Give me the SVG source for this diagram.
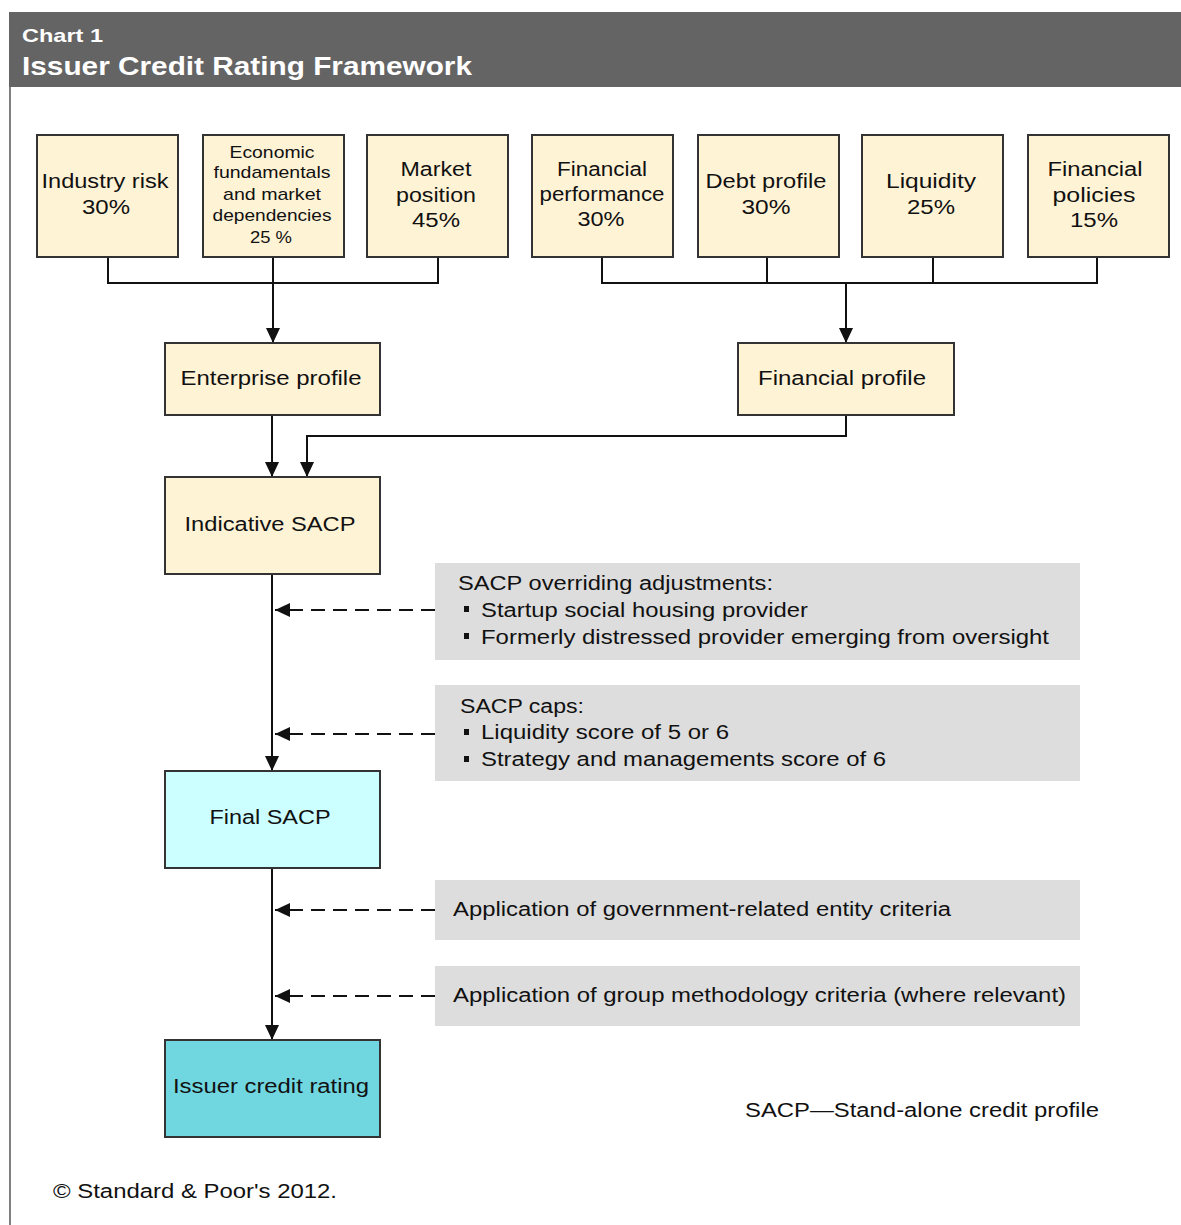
<svg xmlns="http://www.w3.org/2000/svg" width="1181" height="1225" viewBox="0 0 1181 1225">
  <style>
    .box { fill: #fff3d6; stroke: #333333; stroke-width: 2; }
    .final { fill: #ccffff; stroke: #333333; stroke-width: 2; }
    .rating { fill: #70d6e0; stroke: #333333; stroke-width: 2; }
    .note { fill: #dddddd; }
    .t { font-family: "Liberation Sans", Arial, sans-serif; font-size: 20px; fill: #111111; }
    .ts { font-family: "Liberation Sans", Arial, sans-serif; font-size: 17px; fill: #111111; }
    .hd { font-family: "Liberation Sans", Arial, sans-serif; font-weight: bold; fill: #ffffff; }
    .ln { fill: none; stroke: #111111; stroke-width: 2; }
    .dash { fill: none; stroke: #111111; stroke-width: 2; stroke-dasharray: 14 8; }
  </style>
  <defs>
    <marker id="arr" markerUnits="userSpaceOnUse" markerWidth="15" markerHeight="16" refX="15" refY="7" orient="auto">
      <path d="M0,0 L15,7 L0,14 Z" fill="#111111"/>
    </marker>
  </defs>

  <rect x="0" y="0" width="1181" height="1225" fill="#ffffff"/>

  <!-- header bar and frame -->
  <g id="header">
    <rect x="9" y="12" width="1172" height="75" fill="#646464"/>
    <line x1="10" y1="87" x2="10" y2="1225" stroke="#808080" stroke-width="2"/>
    <text class="hd" x="22" y="42" font-size="19" textLength="81" lengthAdjust="spacingAndGlyphs">Chart 1</text>
    <text class="hd" x="22" y="75" font-size="25" textLength="450" lengthAdjust="spacingAndGlyphs">Issuer Credit Rating Framework</text>
  </g>

  <!-- connectors -->
  <g id="connectors">
    <path class="ln" d="M108,257 V283 H438 V257 M273,257 V343" marker-end="url(#arr)"/>
    <path class="ln" d="M602,257 V283 H1097 V257 M767,257 V283 M933,257 V283 M846,283 V343" marker-end="url(#arr)"/>
    <path class="ln" d="M272,415 V477" marker-end="url(#arr)"/>
    <path class="ln" d="M846,415 V436 H307 V477" marker-end="url(#arr)"/>
    <path class="ln" d="M272,574 V771" marker-end="url(#arr)"/>
    <path class="ln" d="M272,868 V1040" marker-end="url(#arr)"/>
    <path class="dash" d="M435,610 H275" marker-end="url(#arr)"/>
    <path class="dash" d="M435,734 H275" marker-end="url(#arr)"/>
    <path class="dash" d="M435,910 H275" marker-end="url(#arr)"/>
    <path class="dash" d="M435,996 H275" marker-end="url(#arr)"/>
  </g>

  <!-- input factors -->
  <g id="industry-risk">
    <rect class="box" x="37" y="135" width="141" height="122"/>
    <text class="t" x="105" y="188" text-anchor="middle" textLength="127" lengthAdjust="spacingAndGlyphs">Industry risk</text>
    <text class="t" x="106" y="214" text-anchor="middle" textLength="48" lengthAdjust="spacingAndGlyphs">30%</text>
  </g>
  <g id="economic-fundamentals">
    <rect class="box" x="203" y="135" width="141" height="122"/>
    <text class="ts" x="272" y="158" text-anchor="middle" textLength="85" lengthAdjust="spacingAndGlyphs">Economic</text>
    <text class="ts" x="272" y="178" text-anchor="middle" textLength="117" lengthAdjust="spacingAndGlyphs">fundamentals</text>
    <text class="ts" x="272" y="200" text-anchor="middle" textLength="98" lengthAdjust="spacingAndGlyphs">and market</text>
    <text class="ts" x="272" y="221" text-anchor="middle" textLength="119" lengthAdjust="spacingAndGlyphs">dependencies</text>
    <text class="ts" x="271" y="243" text-anchor="middle" textLength="42" lengthAdjust="spacingAndGlyphs">25 %</text>
  </g>
  <g id="market-position">
    <rect class="box" x="367" y="135" width="141" height="122"/>
    <text class="t" x="436" y="176" text-anchor="middle" textLength="71" lengthAdjust="spacingAndGlyphs">Market</text>
    <text class="t" x="436" y="202" text-anchor="middle" textLength="80" lengthAdjust="spacingAndGlyphs">position</text>
    <text class="t" x="436" y="227" text-anchor="middle" textLength="48" lengthAdjust="spacingAndGlyphs">45%</text>
  </g>
  <g id="financial-performance">
    <rect class="box" x="532" y="135" width="141" height="122"/>
    <text class="t" x="602" y="176" text-anchor="middle" textLength="90" lengthAdjust="spacingAndGlyphs">Financial</text>
    <text class="t" x="602" y="201" text-anchor="middle" textLength="125" lengthAdjust="spacingAndGlyphs">performance</text>
    <text class="t" x="601" y="226" text-anchor="middle" textLength="47" lengthAdjust="spacingAndGlyphs">30%</text>
  </g>
  <g id="debt-profile">
    <rect class="box" x="698" y="135" width="141" height="122"/>
    <text class="t" x="766" y="188" text-anchor="middle" textLength="121" lengthAdjust="spacingAndGlyphs">Debt profile</text>
    <text class="t" x="766" y="214" text-anchor="middle" textLength="49" lengthAdjust="spacingAndGlyphs">30%</text>
  </g>
  <g id="liquidity">
    <rect class="box" x="862" y="135" width="141" height="122"/>
    <text class="t" x="931" y="188" text-anchor="middle" textLength="90" lengthAdjust="spacingAndGlyphs">Liquidity</text>
    <text class="t" x="931" y="214" text-anchor="middle" textLength="48" lengthAdjust="spacingAndGlyphs">25%</text>
  </g>
  <g id="financial-policies">
    <rect class="box" x="1028" y="135" width="141" height="122"/>
    <text class="t" x="1095" y="176" text-anchor="middle" textLength="95" lengthAdjust="spacingAndGlyphs">Financial</text>
    <text class="t" x="1094" y="202" text-anchor="middle" textLength="83" lengthAdjust="spacingAndGlyphs">policies</text>
    <text class="t" x="1094" y="227" text-anchor="middle" textLength="48" lengthAdjust="spacingAndGlyphs">15%</text>
  </g>

  <!-- profiles -->
  <g id="enterprise-profile">
    <rect class="box" x="165" y="343" width="215" height="72"/>
    <text class="t" x="271" y="385" text-anchor="middle" textLength="181" lengthAdjust="spacingAndGlyphs">Enterprise profile</text>
  </g>
  <g id="financial-profile">
    <rect class="box" x="738" y="343" width="216" height="72"/>
    <text class="t" x="842" y="385" text-anchor="middle" textLength="168" lengthAdjust="spacingAndGlyphs">Financial profile</text>
  </g>

  <!-- SACP steps -->
  <g id="indicative-sacp">
    <rect class="box" x="165" y="477" width="215" height="97"/>
    <text class="t" x="270" y="531" text-anchor="middle" textLength="171" lengthAdjust="spacingAndGlyphs">Indicative SACP</text>
  </g>
  <g id="final-sacp">
    <rect class="final" x="165" y="771" width="215" height="97"/>
    <text class="t" x="270" y="824" text-anchor="middle" textLength="121" lengthAdjust="spacingAndGlyphs">Final SACP</text>
  </g>
  <g id="issuer-credit-rating">
    <rect class="rating" x="165" y="1040" width="215" height="97"/>
    <text class="t" x="271" y="1093" text-anchor="middle" textLength="196" lengthAdjust="spacingAndGlyphs">Issuer credit rating</text>
  </g>

  <!-- adjustment notes -->
  <g id="overriding-adjustments">
    <rect class="note" x="435" y="563" width="645" height="97"/>
    <text class="t" x="458" y="590" textLength="315" lengthAdjust="spacingAndGlyphs">SACP overriding adjustments:</text>
    <rect x="464" y="606" width="5" height="6" fill="#111111"/>
    <text class="t" x="481" y="617" textLength="327" lengthAdjust="spacingAndGlyphs">Startup social housing provider</text>
    <rect x="464" y="633" width="5" height="6" fill="#111111"/>
    <text class="t" x="481" y="644" textLength="568" lengthAdjust="spacingAndGlyphs">Formerly distressed provider emerging from oversight</text>
  </g>
  <g id="sacp-caps">
    <rect class="note" x="435" y="685" width="645" height="96"/>
    <text class="t" x="460" y="713" textLength="124" lengthAdjust="spacingAndGlyphs">SACP caps:</text>
    <rect x="464" y="729" width="5" height="6" fill="#111111"/>
    <text class="t" x="481" y="739" textLength="248" lengthAdjust="spacingAndGlyphs">Liquidity score of 5 or 6</text>
    <rect x="464" y="756" width="5" height="6" fill="#111111"/>
    <text class="t" x="481" y="766" textLength="405" lengthAdjust="spacingAndGlyphs">Strategy and managements score of 6</text>
  </g>
  <g id="gre-criteria">
    <rect class="note" x="435" y="880" width="645" height="60"/>
    <text class="t" x="453" y="916" textLength="498" lengthAdjust="spacingAndGlyphs">Application of government-related entity criteria</text>
  </g>
  <g id="group-criteria">
    <rect class="note" x="435" y="966" width="645" height="60"/>
    <text class="t" x="453" y="1002" textLength="613" lengthAdjust="spacingAndGlyphs">Application of group methodology criteria (where relevant)</text>
  </g>

  <!-- footnotes -->
  <g id="footnotes">
    <text class="t" x="745" y="1117" textLength="354" lengthAdjust="spacingAndGlyphs">SACP—Stand-alone credit profile</text>
    <text class="t" x="53" y="1198" textLength="284" lengthAdjust="spacingAndGlyphs">© Standard &amp; Poor's 2012.</text>
  </g>
</svg>
